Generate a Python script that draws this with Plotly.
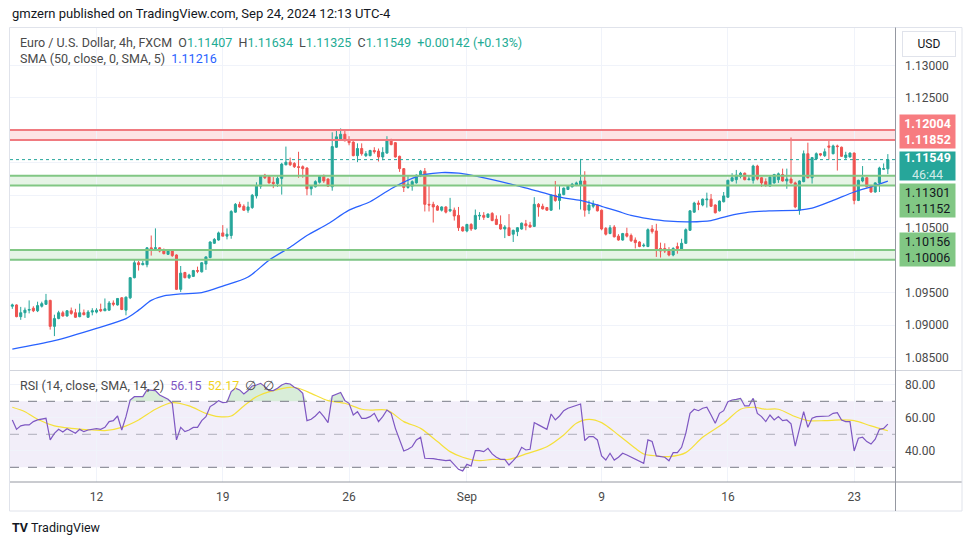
import plotly.graph_objects as go
from plotly.subplots import make_subplots

# ---------------- data (EUR/USD 4h, FXCM) ----------------
bar_index = list(range(209))
opens = [1.0929,1.0931,1.0913,1.0919,1.0923,1.0926,1.0922,1.0929,1.0932,1.0938,
 1.0898,1.0910,1.0919,1.0914,1.0922,1.0919,1.0913,1.0919,1.0912,1.0920,
 1.0920,1.0924,1.0922,1.0923,1.0934,1.0931,1.0942,1.0923,1.0942,1.0973,
 1.0996,1.0993,1.0993,1.1019,1.1018,1.1019,1.1015,1.1009,1.1014,1.1008,
 1.0955,1.0981,1.0973,1.0975,1.0984,1.0982,1.0994,1.1004,1.1026,1.1031,
 1.1042,1.1037,1.1038,1.1074,1.1086,1.1083,1.1077,1.1081,1.1099,1.1114,
 1.1131,1.1129,1.1120,1.1118,1.1126,1.1147,1.1151,1.1149,1.1144,1.1144,
 1.1142,1.1110,1.1113,1.1120,1.1129,1.1125,1.1113,1.1174,1.1186,1.1194,
 1.1185,1.1182,1.1161,1.1172,1.1161,1.1161,1.1169,1.1168,1.1159,1.1165,
 1.1185,1.1181,1.1160,1.1141,1.1112,1.1114,1.1119,1.1130,1.1137,1.1086,
 1.1086,1.1083,1.1077,1.1082,1.1076,1.1077,1.1069,1.1051,1.1045,1.1055,
 1.1048,1.1068,1.1069,1.1066,1.1072,1.1063,1.1055,1.1048,1.1050,1.1040,
 1.1044,1.1048,1.1056,1.1054,1.1052,1.1086,1.1083,1.1081,1.1077,1.1100,
 1.1092,1.1101,1.1109,1.1113,1.1115,1.1116,1.1122,1.1077,1.1083,1.1085,
 1.1077,1.1049,1.1041,1.1051,1.1037,1.1031,1.1041,1.1038,1.1031,1.1028,
 1.1022,1.1021,1.1048,1.1045,1.1018,1.1018,1.1014,1.1008,1.1021,1.1016,
 1.1026,1.1046,1.1074,1.1088,1.1085,1.1093,1.1094,1.1085,1.1076,1.1090,
 1.1097,1.1122,1.1124,1.1129,1.1134,1.1124,1.1123,1.1145,1.1127,1.1121,
 1.1114,1.1119,1.1124,1.1132,1.1122,1.1125,1.1119,1.1077,1.1121,1.1164,
 1.1127,1.1156,1.1164,1.1161,1.1176,1.1164,1.1176,1.1174,1.1158,1.1159,
 1.1165,1.1092,1.1122,1.1127,1.1115,1.1105,1.1119,1.1140,1.11407]
highs = [1.0933,1.0932,1.0928,1.0927,1.0938,1.0929,1.0936,1.0936,1.0948,1.0939,
 1.0916,1.0922,1.0922,1.0923,1.0927,1.0925,1.0933,1.0924,1.0923,1.0926,
 1.0926,1.0933,1.0941,1.0937,1.0938,1.0941,1.0943,1.0944,1.0974,1.1001,
 1.0999,1.0999,1.1020,1.1038,1.1049,1.1020,1.1018,1.1016,1.1016,1.1009,
 1.0991,1.0982,1.0979,1.0985,1.0990,1.0997,1.1006,1.1029,1.1034,1.1044,
 1.1054,1.1049,1.1077,1.1088,1.1090,1.1086,1.1090,1.1102,1.1120,1.1131,
 1.1133,1.1130,1.1128,1.1129,1.1150,1.1175,1.1158,1.1151,1.1167,1.1146,
 1.1143,1.1115,1.1123,1.1131,1.1132,1.1126,1.1197,1.1202,1.1203,1.1201,
 1.1191,1.1183,1.1180,1.1180,1.1168,1.1170,1.1174,1.1172,1.1174,1.1191,
 1.1187,1.1182,1.1161,1.1142,1.1131,1.1123,1.1132,1.1139,1.1142,1.1115,
 1.1090,1.1085,1.1083,1.1083,1.1096,1.1081,1.1082,1.1052,1.1056,1.1057,
 1.1078,1.1074,1.1074,1.1072,1.1074,1.1069,1.1069,1.1054,1.1071,1.1047,
 1.1051,1.1058,1.1062,1.1059,1.1097,1.1088,1.1087,1.1082,1.1101,1.1122,
 1.1115,1.1112,1.1115,1.1119,1.1121,1.1156,1.1137,1.1092,1.1092,1.1086,
 1.1078,1.1051,1.1054,1.1054,1.1040,1.1042,1.1050,1.1041,1.1035,1.1029,
 1.1026,1.1049,1.1054,1.1056,1.1027,1.1026,1.1020,1.1020,1.1027,1.1033,
 1.1049,1.1077,1.1090,1.1092,1.1095,1.1104,1.1102,1.1086,1.1092,1.1105,
 1.1124,1.1134,1.1139,1.1136,1.1135,1.1131,1.1147,1.1147,1.1128,1.1126,
 1.1131,1.1133,1.1135,1.1141,1.1141,1.1189,1.1121,1.1123,1.1169,1.1181,
 1.1159,1.1166,1.1165,1.1172,1.1184,1.1178,1.1178,1.1175,1.1167,1.1166,
 1.1166,1.1124,1.1145,1.1128,1.1116,1.1120,1.1144,1.1149,1.11634]
lows = [1.0925,1.0912,1.0908,1.0911,1.0918,1.0920,1.0920,1.0927,1.0931,1.0893,
 1.0883,1.0909,1.0913,1.0913,1.0916,1.0911,1.0912,1.0915,1.0911,1.0915,
 1.0918,1.0920,1.0922,1.0922,1.0929,1.0930,1.0923,1.0915,1.0940,1.0972,
 1.0984,1.0992,1.0989,1.1007,1.1018,1.1012,1.1009,1.1008,1.1005,1.0954,
 1.0951,1.0972,1.0971,1.0974,1.0980,1.0981,1.0985,1.1003,1.1025,1.1030,
 1.1037,1.1032,1.1033,1.1073,1.1081,1.1076,1.1073,1.1079,1.1095,1.1110,
 1.1125,1.1118,1.1111,1.1113,1.1101,1.1146,1.1145,1.1142,1.1127,1.1127,
 1.1100,1.1100,1.1112,1.1118,1.1119,1.1113,1.1107,1.1173,1.1185,1.1183,
 1.1177,1.1160,1.1151,1.1161,1.1159,1.1160,1.1164,1.1152,1.1154,1.1164,
 1.1177,1.1158,1.1136,1.1105,1.1110,1.1107,1.1118,1.1128,1.1075,1.1075,
 1.1058,1.1076,1.1075,1.1072,1.1074,1.1061,1.1045,1.1044,1.1043,1.1045,
 1.1047,1.1062,1.1062,1.1065,1.1060,1.1054,1.1047,1.1034,1.1037,1.1028,
 1.1037,1.1047,1.1046,1.1050,1.1051,1.1067,1.1078,1.1076,1.1076,1.1090,
 1.1078,1.1100,1.1108,1.1112,1.1114,1.1078,1.1067,1.1071,1.1080,1.1075,
 1.1046,1.1038,1.1040,1.1035,1.1030,1.1030,1.1035,1.1028,1.1018,1.1020,
 1.1020,1.1020,1.1041,1.1005,1.1004,1.1011,1.1006,1.1006,1.1010,1.1015,
 1.1025,1.1045,1.1073,1.1077,1.1083,1.1081,1.1082,1.1072,1.1075,1.1089,
 1.1096,1.1121,1.1118,1.1126,1.1123,1.1123,1.1118,1.1123,1.1113,1.1113,
 1.1114,1.1118,1.1119,1.1121,1.1110,1.1118,1.1080,1.1070,1.1120,1.1126,
 1.1118,1.1155,1.1160,1.1159,1.1155,1.1163,1.1138,1.1159,1.1156,1.1158,
 1.1086,1.1091,1.1120,1.1112,1.1104,1.1104,1.1105,1.1139,1.11325]
closes = [1.0931,1.0913,1.0919,1.0923,1.0924,1.0922,1.0930,1.0933,1.0938,1.0898,
 1.0910,1.0919,1.0914,1.0922,1.0918,1.0912,1.0919,1.0916,1.0920,1.0922,
 1.0923,1.0922,1.0925,1.0934,1.0932,1.0941,1.0924,1.0943,1.0973,1.0996,
 1.0993,1.0995,1.1019,1.1017,1.1019,1.1014,1.1010,1.1014,1.1007,1.0955,
 1.0980,1.0973,1.0977,1.0984,1.0983,1.0996,1.1005,1.1028,1.1032,1.1042,
 1.1037,1.1040,1.1075,1.1086,1.1082,1.1077,1.1082,1.1100,1.1115,1.1130,
 1.1127,1.1119,1.1118,1.1126,1.1148,1.1151,1.1147,1.1144,1.1143,1.1141,
 1.1110,1.1114,1.1121,1.1129,1.1122,1.1114,1.1175,1.1190,1.1194,1.1184,
 1.1181,1.1161,1.1172,1.1164,1.1164,1.1169,1.1167,1.1159,1.1166,1.1186,
 1.1178,1.1159,1.1141,1.1112,1.1117,1.1121,1.1131,1.1137,1.1086,1.1085,
 1.1082,1.1077,1.1082,1.1074,1.1078,1.1068,1.1050,1.1045,1.1055,1.1048,
 1.1069,1.1069,1.1066,1.1071,1.1061,1.1055,1.1048,1.1051,1.1038,1.1046,
 1.1050,1.1057,1.1053,1.1051,1.1086,1.1082,1.1079,1.1077,1.1100,1.1092,
 1.1102,1.1111,1.1114,1.1117,1.1119,1.1122,1.1077,1.1085,1.1086,1.1076,
 1.1048,1.1040,1.1050,1.1036,1.1031,1.1041,1.1037,1.1030,1.1027,1.1021,
 1.1023,1.1047,1.1044,1.1015,1.1014,1.1014,1.1008,1.1018,1.1018,1.1026,
 1.1047,1.1076,1.1088,1.1086,1.1094,1.1094,1.1083,1.1073,1.1091,1.1099,
 1.1123,1.1127,1.1131,1.1134,1.1124,1.1125,1.1145,1.1125,1.1119,1.1115,
 1.1128,1.1132,1.1133,1.1122,1.1125,1.1119,1.1082,1.1122,1.1164,1.1127,
 1.1158,1.1164,1.1162,1.1167,1.1174,1.1176,1.1175,1.1160,1.1162,1.1165,
 1.1092,1.1123,1.1127,1.1113,1.1105,1.1119,1.1142,1.1141,1.11549]

# SMA(50) read at selected bars
sma_bars = [0,10,20,27,30,33,36,40,45,50,56,61,66,70,75,80,85,90,95,98,102,106,109,
            114,121,125,130,135,140,144,147,151,156,161,166,170,175,180,187,190,195,200,204,208]
sma_vals = [1.0863,1.0876,1.0895,1.0910,1.0923,1.0938,1.0945,1.0948,1.0950,1.0960,1.0974,
            1.1000,1.1020,1.1038,1.1056,1.1077,1.1090,1.1110,1.1126,1.1132,1.1135,1.1134,1.1131,
            1.1124,1.1113,1.1106,1.1097,1.1092,1.1083,1.1075,1.1069,1.1064,1.1060,1.1059,1.1061,
            1.1068,1.1074,1.1076,1.1077,1.1080,1.1092,1.1105,1.1113,1.11216]

rsi_vals = [58.7,53.0,55.1,55.7,55.7,57.7,58.7,59.1,59.7,46.6,50.6,53.0,51.4,53.4,51.8,50.6,
 53.0,51.6,52.6,53.0,53.4,53.0,54.2,57.7,58.3,61.1,52.6,60.7,70.8,72.8,72.8,72.8,76.9,76.9,
 76.5,73.8,72.4,71.2,68.8,46.6,54.2,51.6,52.6,54.2,54.2,58.3,60.7,66.8,68.4,70.4,69.2,69.4,
 75.9,77.9,76.9,74.4,76.5,79.3,79.9,80.9,78.9,76.5,76.5,77.9,79.9,80.9,80.5,78.5,77.3,74.8,
 58.3,59.1,61.1,63.7,60.7,57.1,73.2,74.4,75.3,70.4,68.8,61.7,63.7,59.7,59.7,60.7,62.7,57.7,
 60.7,64.7,62.7,53.6,46.6,39.9,40.9,42.5,46.6,48.2,35.5,35.5,35.3,34.8,34.4,34.0,34.4,31.8,
 28.8,27.8,31.8,30.8,40.1,40.1,39.5,41.5,38.1,36.1,34.8,34.8,31.4,34.0,36.9,42.1,40.5,40.9,
 57.1,55.7,54.2,53.0,62.3,58.7,61.1,64.3,65.8,66.8,67.6,68.4,46.2,48.6,48.6,46.6,36.9,34.4,
 38.5,34.4,36.1,38.5,37.5,36.1,34.8,33.4,32.4,46.6,45.6,36.9,36.5,36.1,34.0,38.9,38.9,42.1,
 50.6,62.7,65.2,64.3,65.8,66.4,61.7,56.7,62.7,64.3,69.8,70.8,71.2,71.8,67.2,67.2,71.8,62.7,
 60.7,57.7,61.7,58.7,60.7,58.3,58.7,56.3,42.9,54.2,63.7,54.2,59.7,60.7,60.7,61.1,61.1,62.7,
 63.1,58.7,57.7,57.7,39.9,47.6,48.2,45.6,44.1,47.0,53.0,53.6,56.15]

rsi_ma_bars = [0,3,6,10,14,19,22,26,30,34,38,42,46,49,52,55,58,62,66,68,71,75,79,83,85,89,
               93,97,101,104,107,111,114,118,122,127,131,134,137,140,144,148,150,153,156,160,
               164,169,173,176,179,182,186,189,193,197,200,204,208]
rsi_ma_vals = [66.4,63.7,59.1,55.1,53.6,52.6,52.2,54.2,58.7,65.2,69.2,67.2,62.7,60.7,61.1,67.2,
               72.8,76.5,78.5,77.9,74.8,70.4,68.8,65.2,64.7,64.7,57.7,53.6,45.6,39.5,36.1,34.0,
               34.8,34.8,38.1,42.5,49.6,56.7,59.1,57.1,49.6,41.5,38.1,36.9,36.5,38.9,48.2,56.7,
               65.2,66.4,65.2,65.2,60.7,58.3,58.3,58.7,58.3,55.1,52.17]

tick_bars = [20, 50, 80, 108, 140, 170, 200]
tick_text = ["12", "19", "26", "Sep", "9", "16", "23"]
price_ticks = [1.085, 1.090, 1.095, 1.100, 1.105, 1.110, 1.115, 1.120, 1.125, 1.130]
hidden_ticks = [1.100, 1.110, 1.115, 1.120]

red_zone = (1.11852, 1.12004)
green_zones = [(1.11152, 1.11301), (1.10006, 1.10156)]
last_price = 1.11549
countdown = "46:44"

# ---------------- geometry helpers ----------------
W, H = 970, 545
ML, MR, MT, MB = 10, 75, 28, 63
PW = W - ML - MR
PH = H - MT - MB
def fx(px): return (px - ML) / PW
def fy(py): return (H - MB - py) / PH

UP, DN = "#26A69A", "#EF5350"
GRID = "#f0f3fa"
FONT = "Roboto, Arial, sans-serif"
TXT = "#131722"

fig = make_subplots(rows=2, cols=1, shared_xaxes=True, vertical_spacing=0)

fig.add_trace(go.Candlestick(x=bar_index, open=opens, high=highs, low=lows, close=closes,
    increasing=dict(line=dict(color=UP, width=1), fillcolor=UP),
    decreasing=dict(line=dict(color=DN, width=1), fillcolor=DN),
    whiskerwidth=0, showlegend=False, hoverinfo="skip"), row=1, col=1)

fig.add_trace(go.Scatter(x=sma_bars, y=sma_vals, mode="lines",
    line=dict(color="#2962FF", width=1.3, shape="spline", smoothing=0.8),
    showlegend=False, hoverinfo="skip"), row=1, col=1)

# RSI pane
ob_level = [70] * len(bar_index)
ob_top = [max(v, 70) for v in rsi_vals]
fig.add_trace(go.Scatter(x=bar_index, y=ob_level, mode="lines", line=dict(width=0),
    showlegend=False, hoverinfo="skip"), row=2, col=1)
fig.add_trace(go.Scatter(x=bar_index, y=ob_top, mode="lines", line=dict(width=0),
    fill="tonexty", fillcolor="rgba(76,175,80,0.22)", showlegend=False, hoverinfo="skip"), row=2, col=1)
fig.add_trace(go.Scatter(x=rsi_ma_bars, y=rsi_ma_vals, mode="lines",
    line=dict(color="#F5E03A", width=1.2, shape="spline", smoothing=0.8),
    showlegend=False, hoverinfo="skip"), row=2, col=1)
fig.add_trace(go.Scatter(x=bar_index, y=rsi_vals, mode="lines",
    line=dict(color="#7E57C2", width=1.2), showlegend=False, hoverinfo="skip"), row=2, col=1)

shapes = []
# RSI band and levels
shapes.append(dict(type="rect", xref="x2 domain", yref="y2", x0=0, x1=1, y0=30, y1=70,
                   fillcolor="rgba(126,87,194,0.10)", line=dict(width=0), layer="below"))
for lv, col in [(70, "#787b86"), (50, "rgba(120,123,134,0.55)"), (30, "#787b86")]:
    shapes.append(dict(type="line", xref="x2 domain", yref="y2", x0=0, x1=1, y0=lv, y1=lv,
                       line=dict(color=col, width=1, dash="dash")))
# zones
lo, hi = red_zone
shapes.append(dict(type="rect", xref="x domain", yref="y", x0=0, x1=1, y0=lo, y1=hi,
                   fillcolor="rgba(242,54,69,0.14)", line=dict(width=0), layer="below"))
for v in red_zone:
    shapes.append(dict(type="line", xref="x domain", yref="y", x0=0, x1=1, y0=v, y1=v,
                       line=dict(color="#F07A80", width=2)))
for lo, hi in green_zones:
    shapes.append(dict(type="rect", xref="x domain", yref="y", x0=0, x1=1, y0=lo, y1=hi,
                       fillcolor="rgba(76,175,80,0.14)", line=dict(width=0), layer="below"))
    for v in (lo, hi):
        shapes.append(dict(type="line", xref="x domain", yref="y", x0=0, x1=1, y0=v, y1=v,
                           line=dict(color="#81C784", width=2)))
# last price dotted line
shapes.append(dict(type="line", xref="x domain", yref="y", x0=0, x1=1, y0=last_price, y1=last_price,
                   line=dict(color=UP, width=1, dash="dot")))
# frame lines
def hline(py, x0, x1, col, w=1):
    shapes.append(dict(type="line", xref="paper", yref="paper", x0=fx(x0), x1=fx(x1),
                       y0=fy(py), y1=fy(py), line=dict(color=col, width=w)))
def vline(px, y0, y1, col, w=1):
    shapes.append(dict(type="line", xref="paper", yref="paper", x0=fx(px), x1=fx(px),
                       y0=fy(y0), y1=fy(y1), line=dict(color=col, width=w)))
hline(27.5, 9.5, 962, "#e0e3eb")
hline(370.5, 9.5, 962, "#d1d4dc")
hline(482, 9.5, 962, "#9598a1")
hline(511, 9.5, 962, "#e0e3eb")
vline(9.5, 27.5, 511, "#e0e3eb")
vline(895.5, 27.5, 511, "#9598a1")
vline(962, 27.5, 511, "#e0e3eb")

ann = []
def text(px, py, t, size=13, color=TXT, anchor="left"):
    ann.append(dict(xref="paper", yref="paper", x=fx(px), y=fy(py), text=t, showarrow=False,
                    xanchor=anchor, yanchor="middle", font=dict(family=FONT, size=size, color=color)))

G = "#22ab94"
sp = "\u00a0"
text(10, 14, "gmzern published on TradingView.com, Sep 24, 2024 12:13 UTC-4", 13, "#131722")
legend = ("Euro / U.S. Dollar, 4h, FXCM" + sp*2 +
          "O<span style='color:%s'>1.11407</span>" % G + sp*2 +
          "H<span style='color:%s'>1.11634</span>" % G + sp*2 +
          "L<span style='color:%s'>1.11325</span>" % G + sp*2 +
          "C<span style='color:%s'>1.11549</span>" % G + sp*2 +
          "<span style='color:%s'>+0.00142 (+0.13%%)</span>" % G)
text(18, 42, legend, 12.5, "#4a4a4a")
text(18, 59, "SMA (50, close, 0, SMA, 5)" + sp*2 + "<span style='color:#2962FF'>1.11216</span>", 12.5, "#4a4a4a")
text(18, 385, "RSI (14, close, SMA, 14, 2)" + sp*2 + "<span style='color:#7E57C2'>56.15</span>" + sp*2 +
     "<span style='color:#F0D21E'>52.17</span>" + sp*2 + "\u2205" + sp*2 + "\u2205", 12.5, "#4a4a4a")
text(10, 527, "<b>TV</b>" + sp + "TradingView", 12.5, "#131722")

# USD box
ann.append(dict(xref="paper", yref="paper", x=fx(929), y=fy(44), text="USD", showarrow=False,
                xanchor="center", yanchor="middle", width=50, height=22, bgcolor="white",
                bordercolor="#e0e3eb", borderwidth=1, font=dict(family=FONT, size=12, color=TXT)))

def label_box(val, t, bg, fg, yshift, h):
    ann.append(dict(xref="paper", yref="y", x=fx(899), y=val, yshift=yshift, text=t, showarrow=False,
                    xanchor="left", yanchor="middle", width=55, height=h, bgcolor=bg, borderpad=0,
                    align="center", valign="middle", font=dict(family=FONT, size=12.5, color=fg)))
label_box(sum(red_zone)/2, "<b>%.5f</b><br><b>%.5f</b>" % (red_zone[1], red_zone[0]), "#F77C80", "white", 4, 33)
label_box(last_price, "<b>%.5f</b><br><span style='color:rgba(255,255,255,0.8)'>%s</span>" % (last_price, countdown),
          "#26A69A", "white", -6, 28)
label_box(sum(green_zones[0])/2, "%.5f<br>%.5f" % (green_zones[0][1], green_zones[0][0]), "#81C784", TXT, -20, 33)
label_box(sum(green_zones[1])/2, "%.5f<br>%.5f" % (green_zones[1][1], green_zones[1][0]), "#81C784", TXT, 5, 33)

price_text = ["" if v in hidden_ticks else "%.5f" % v for v in price_ticks]

fig.update_layout(
    width=W, height=H, margin=dict(l=ML, r=MR, t=MT, b=MB),
    paper_bgcolor="white", plot_bgcolor="white",
    shapes=shapes, annotations=ann, showlegend=False,
    font=dict(family=FONT, size=12, color=TXT),
    xaxis=dict(range=[-0.55, 209.7], showgrid=True, gridcolor=GRID, tickvals=tick_bars,
               showticklabels=False, zeroline=False, rangeslider=dict(visible=False), showline=False),
    xaxis2=dict(range=[-0.55, 209.7], showgrid=True, gridcolor=GRID, tickvals=tick_bars, ticktext=tick_text,
                ticks="", ticklabelstandoff=6, zeroline=False, showline=False,
                tickfont=dict(family=FONT, size=12, color="#4a4a4a")),
    yaxis=dict(domain=[fy(370.5), 1], range=[1.14 - 370.5/6500, 1.14 - 27.5/6500], side="right",
               tickvals=price_ticks, ticktext=price_text, showgrid=True, gridcolor=GRID, zeroline=False,
               ticks="", ticklabelstandoff=9, tickfont=dict(family=FONT, size=12, color="#4a4a4a")),
    yaxis2=dict(domain=[0, fy(371)], range=[50 - (482 - 434.3)/1.65, 50 + (434.3 - 371)/1.65], side="right",
                tickvals=[40, 60, 80], ticktext=["40.00", "60.00", "80.00"], showgrid=True, gridcolor=GRID,
                zeroline=False, ticks="", ticklabelstandoff=9, tickfont=dict(family=FONT, size=12, color="#4a4a4a")),
)

fig.write_html("out.html", config={"displayModeBar": False},
               post_script="document.body.style.margin='0';")
